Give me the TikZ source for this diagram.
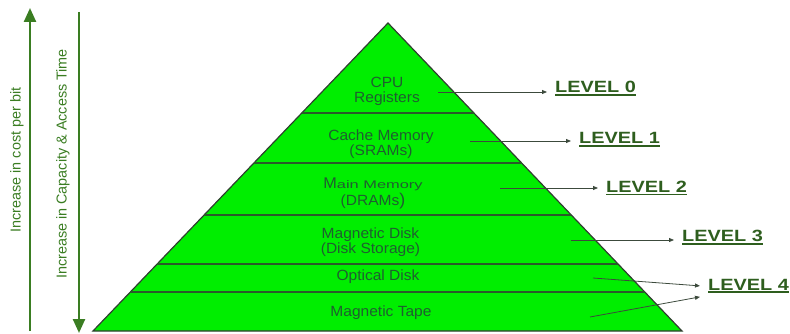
\documentclass[tikz,border=0pt]{standalone}
\usepackage{fontspec}
\usepackage{graphicx}
\setmainfont{Liberation Sans}
\newfontfamily\tierfont[FakeStretch=1.05]{Liberation Sans}
\newfontfamily\levelfont[FakeStretch=1.22]{Liberation Sans}
\usetikzlibrary{arrows.meta,calc}

\definecolor{pyrfill}{HTML}{00EE00}
\definecolor{pyredge}{HTML}{2F3F2F}
\definecolor{tierline}{HTML}{2A5A2A}
\definecolor{tiertxt}{HTML}{1F5E30}
\definecolor{lvltxt}{HTML}{2E5E1E}
\definecolor{arrowgray}{HTML}{3C4A3C}
\definecolor{sidegreen}{HTML}{3A7D22}

\newcommand\lvlul[1]{\setbox0=\hbox{#1}\rlap{\copy0}\rule[-3pt]{\wd0}{1.8pt}}

\begin{document}
\begin{tikzpicture}[x=1pt,y=-1pt,
 every node/.style={inner sep=0pt},
 tier/.style={draw=tierline,line width=1.4pt},
 tiertext/.style={align=center,text=tiertxt,font=\tierfont\fontsize{14.8}{15}\selectfont},
 lvllabel/.style={anchor=base west,inner xsep=8pt,text=lvltxt,
 font=\levelfont\bfseries\fontsize{16.3}{18}\selectfont},
 lvlarrow/.style={draw=arrowgray,line width=0.8pt,-{Triangle[length=5pt,width=4pt]}},
 sidearrow/.style={draw=sidegreen,line width=2.4pt,-{Triangle[length=14pt,width=12pt]}},
 sidetext/.style={rotate=90,text=sidegreen,font=\fontsize{14.4}{16}\selectfont}]
 \useasboundingbox (0,0) rectangle (790,334);

 % side arrows
 \coordinate (upS) at (30,331);
 \coordinate (upE) at (30,8);
 \coordinate (dnS) at (79,12);
 \coordinate (dnE) at (79,333);
 \draw[sidearrow] (upS) -- (upE);
 \draw[sidearrow] (dnS) -- (dnE);
 \node[sidetext] (cost) at (17,160) {Increase in cost per bit};
 \node[sidetext] (capacity) at (63,164) {Increase in Capacity \& Access Time};

 % pyramid
 \coordinate (apex) at (388,23);
 \coordinate (bl) at (93,331);
 \coordinate (br) at (682,331);
 \filldraw[fill=pyrfill,draw=pyredge,line width=1.2pt] (apex) -- (br) -- (bl) -- cycle;
 \foreach \t in {0.2922,0.4545,0.6234,0.7825,0.8734}
 \draw[tier] ($(apex)!\t!(bl)$) -- ($(apex)!\t!(br)$);

 \node[tiertext] (cpu) at (387,91.2) {CPU\\Registers};
 \node[tiertext] (cache) at (381,144.3) {Cache Memory\\(SRAMs)};
 \node[tiertext] (main) at (373,193.2)
 {{\fontsize{15.5}{15}\selectfont M}\scalebox{1.42}[1]{\fontsize{11}{13}\selectfont ain Memory}\\[2pt]
 (DRAMs{\fontsize{17}{15}\selectfont )}};
 \node[tiertext] (disk) at (370.5,241.8) {Magnetic Disk\\(Disk Storage)};
 \node[tiertext] (optical) at (378,277) {Optical Disk};
 \node[tiertext] (tape) at (381,312.2) {Magnetic Tape};

 % levels
 \node[lvllabel] (lev0) at (547,93) {\lvlul{LEVEL 0}};
 \node[lvllabel] (lev1) at (571,144) {\lvlul{LEVEL 1}};
 \node[lvllabel] (lev2) at (598,192.5) {\lvlul{LEVEL 2}};
 \node[lvllabel] (lev3) at (674,241.5) {\lvlul{LEVEL 3}};
 \node[lvllabel] (lev4) at (700,290) {\lvlul{LEVEL 4}};

 \coordinate (s0) at (438,92);
 \coordinate (s1) at (470,141);
 \coordinate (s2) at (500,188);
 \coordinate (s3) at (571,240);
 \coordinate (s4a) at (593,278);
 \coordinate (s4b) at (590,317);
 \draw[lvlarrow] (s0) -- (s0 -| lev0.west);
 \draw[lvlarrow] (s1) -- (s1 -| lev1.west);
 \draw[lvlarrow] (s2) -- (s2 -| lev2.west);
 \draw[lvlarrow] (s3) -- (s3 -| lev3.west);
 \draw[lvlarrow] (s4a) -- (lev4.west);
 \draw[lvlarrow] (s4b) -- ([yshift=-11pt]lev4.west);
\end{tikzpicture}
\end{document}
